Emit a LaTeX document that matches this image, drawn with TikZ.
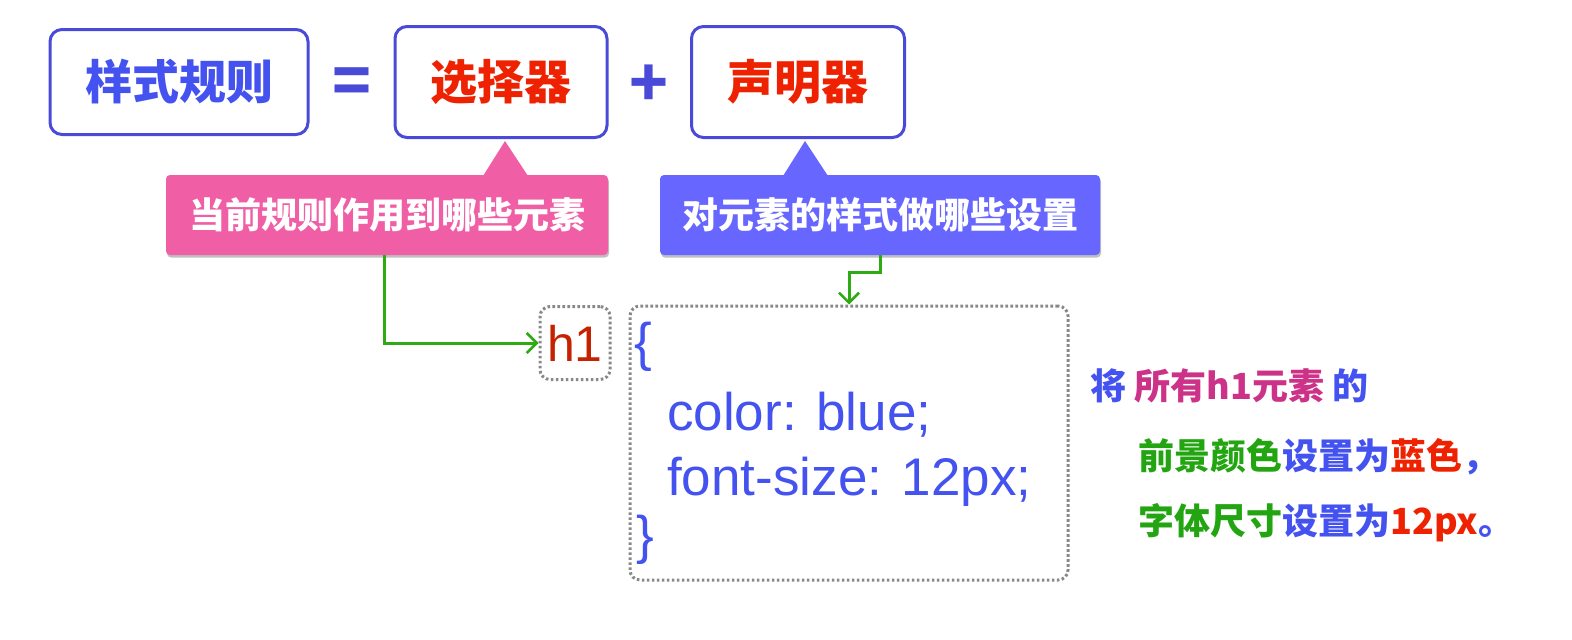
\documentclass[tikz,border=0pt]{standalone}
\usepackage{fontspec}
\setmainfont{Liberation Sans}
\newfontfamily\cjk{Noto Sans CJK SC}
\usetikzlibrary{arrows.meta,shadows}
\definecolor{bordblue}{HTML}{4A4AD8}
\definecolor{txtblue}{HTML}{4452F0}
\definecolor{txtred}{HTML}{EE2200}
\definecolor{hred}{HTML}{C42200}
\definecolor{pinkc}{HTML}{F05FA5}
\definecolor{bluec}{HTML}{6767FF}
\definecolor{gline}{HTML}{2EAA12}
\definecolor{magc}{HTML}{CC3388}
\definecolor{greent}{HTML}{22A511}
\definecolor{dotgray}{HTML}{888888}
\tikzset{
  mainbox/.style={draw=bordblue, line width=3pt, rounded corners=12pt, fill=white, inner sep=0pt},
  callout/.style={rounded corners=4pt, inner sep=0pt, minimum height=80pt, text=white,
    font=\cjk\bfseries\fontsize{36}{40}\selectfont,
    drop shadow={shadow xshift=1pt, shadow yshift=-2.5pt, opacity=0.25, fill=black}},
  dotbox/.style={draw=dotgray, line width=3pt, dash pattern=on 2.6pt off 2.4pt, rounded corners=10pt, inner sep=0pt},
  garrow/.style={draw=gline, line width=3pt, -{Straight Barb[length=10pt,width=20pt,line width=2.6pt]}},
  codetxt/.style={text=txtblue, font=\fontsize{53}{60}\selectfont, inner sep=0pt, anchor=base west},
  expl/.style={font=\cjk\bfseries\fontsize{36}{40}\selectfont, inner sep=0pt, anchor=base west}
}
\begin{document}
\begin{tikzpicture}[x=1pt,y=-1pt]
\useasboundingbox (0,0) rectangle (1572,640);
% top row
\node[mainbox, minimum width=258pt, minimum height=105pt, text=txtblue, font=\cjk\bfseries\fontsize{47}{50}\selectfont] (rule) at (179,82) {样式规则};
\node[text=bordblue, font=\cjk\bfseries\fontsize{64}{70}\selectfont, inner sep=0pt] (eq) at (352,86) {=};
\node[mainbox, minimum width=212pt, minimum height=111pt, text=txtred, font=\cjk\bfseries\fontsize{47}{50}\selectfont] (sel) at (501,82) {选择器};
\node[text=bordblue, font=\cjk\bfseries\fontsize{64}{70}\selectfont, inner sep=0pt] (plus) at (649,86) {+};
\node[mainbox, minimum width=213pt, minimum height=111pt, text=txtred, font=\cjk\bfseries\fontsize{47}{50}\selectfont] (decl) at (798,82) {声明器};
% callouts
\fill[pinkc] (483,176) -- (505,141) -- (528,176) -- cycle;
\node[callout, fill=pinkc, minimum width=442pt] (pink) at (387,215) {当前规则作用到哪些元素};
\fill[bluec] (783,176) -- (805,141) -- (828,176) -- cycle;
\node[callout, fill=bluec, minimum width=440pt] (bluebox) at (880,215) {对元素的样式做哪些设置};
% h1 box and code box
\node[dotbox, minimum width=70pt, minimum height=73pt] (h1) at (575,343) {};
\node[text=hred, font=\fontsize{50}{56}\selectfont, inner sep=0pt] (h1t) at (575,343) {h1};
\node[dotbox, minimum width=438pt, minimum height=274pt] (code) at (849,443) {};
\node[codetxt] (lb) at (634,360) {\{};
\node[codetxt] (l1) at (667,430) {color: blue;};
\node[codetxt] (l2) at (667,495) {font-size: 12px;};
\node[codetxt] (rb) at (636,553) {\}};
% connectors
\draw[garrow] ([xshift=-3pt]pink.south) |- (h1.west);
\draw[garrow] (bluebox.south) -- ++(0,17) -| (code.north);
% explanation
\node[expl] (e1) at (1090,399) {\textcolor{txtblue}{将} \textcolor{magc}{所有h1元素} \textcolor{txtblue}{的}};
\node[expl] (e2) at (1138,469) {\textcolor{greent}{前景颜色}\textcolor{txtblue}{设置为}\textcolor{txtred}{蓝色}\textcolor{txtblue}{，}};
\node[expl] (e3) at (1138,534) {\textcolor{greent}{字体尺寸}\textcolor{txtblue}{设置为}\textcolor{txtred}{12px}\textcolor{txtblue}{。}};
\end{tikzpicture}
\end{document}
